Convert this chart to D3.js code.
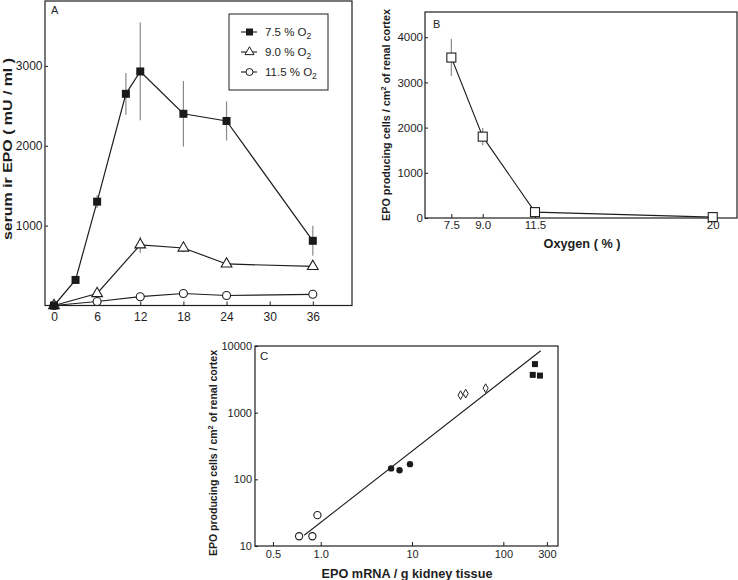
<!DOCTYPE html>
<html><head><meta charset="utf-8">
<script src="https://cdn.jsdelivr.net/npm/d3@7"></script>
<style>
body{margin:0;background:#fff}
svg{display:block}
text{font-family:"Liberation Sans",Arial,sans-serif;fill:#1e1e1e}
</style>
</head><body><svg id="c" width="738" height="580"></svg>
<script>
// ---------- Panel A data ----------
const hours75 = [0, 3, 6, 10, 12, 18, 24, 36];
const epo75   = [0, 320, 1300, 2650, 2930, 2400, 2310, 810];
const err75   = [0, 0, 80, 262, 612, 410, 245, 188];
const hours90 = [0, 6, 12, 18, 24, 36];
const epo90   = [0, 150, 760, 720, 520, 490];
const err90   = [0, 0, 100, 50, 0, 0];
const hours115 = [0, 6, 12, 18, 24, 36];
const epo115   = [0, 50, 110, 150, 125, 140];
const xTicksA = [0, 6, 12, 18, 24, 30, 36];
const yTicksA = [1000, 2000, 3000];
const legendLabels = ["7.5 % O", "9.0 % O", "11.5 % O"];

// ---------- Panel B data ----------
const oxygenB = [7.5, 9.0, 11.5, 20];
const cellsB  = [3550, 1800, 130, 20];
const errB    = [410, 190, 0, 0];
const xTicksB = [7.5, 9.0, 11.5, 20];
const xTickLabelsB = ["7.5", "9.0", "11.5", "20"];
const yTicksB = [0, 1000, 2000, 3000, 4000];

// ---------- Panel C data ----------
const mrnaOpen = [0.58, 0.81, 0.92];
const cellsOpen = [14, 14, 29];
const mrnaFilled = [5.9, 7.3, 9.5];
const cellsFilled = [146, 137, 169];
const mrnaDiamond = [34, 38.7, 64];
const cellsDiamond = [1830, 1930, 2330];
const mrnaSquare = [222, 210, 252];
const cellsSquare = [5350, 3690, 3600];
const fitX = [0.66, 257];
const fitY = [14.5, 8480];
const xTicksC = [0.3, 1, 10, 100, 300];
const xTickLabelsC = ["0.5", "1.0", "10", "100", "300"];
const yTicksC = [10, 100, 1000, 10000];
const yTickLabelsC = ["10", "100", "1000", "10000"];

const svg = d3.select("#c");
const INK = "#1e1e1e", GREY = "#8a8a8a";
const fmtInt = d3.format("d");

function styleAxis(g, fs) {
  g.select(".domain").remove();
  g.selectAll(".tick line").attr("stroke", INK).attr("stroke-width", 1);
  g.selectAll(".tick text").attr("font-size", fs).attr("fill", INK)
    .style("font-family", '"Liberation Sans",Arial,sans-serif');
}
function frame(x0, y0, x1, y1) {
  svg.append("rect").attr("x", x0).attr("y", y0).attr("width", x1 - x0).attr("height", y1 - y0)
    .attr("fill", "none").attr("stroke", INK).attr("stroke-width", 1.2);
}
function sym(type, size) { return d3.symbol().type(type).size(size)(); }

// ================= PANEL A =================
const xA = d3.scaleLinear().domain([-1.25, 41.45]).range([45, 352]);
const yA = d3.scaleLinear().domain([0, 3812]).range([305.5, 1]);

svg.append("g").attr("transform", "translate(0,305.5)")
  .call(d3.axisBottom(xA).tickValues(xTicksA).tickFormat(fmtInt).tickSize(-4).tickPadding(7))
  .call(g => styleAxis(g, 12));
svg.append("g").attr("transform", "translate(45,0)")
  .call(d3.axisLeft(yA).tickValues(yTicksA).tickFormat(fmtInt).tickSize(-3).tickPadding(2.5))
  .call(g => styleAxis(g, 12));
frame(45, 1, 352, 305.5);

svg.append("text").attr("x", 51).attr("y", 14).attr("font-size", 11).text("A");
svg.append("text").attr("transform", "translate(12,149) rotate(-90)")
  .attr("text-anchor", "middle").attr("font-size", 13).attr("font-weight", "bold")
  .attr("textLength", 182).attr("lengthAdjust", "spacingAndGlyphs")
  .text("serum ir EPO ( mU / ml )");

const lineA = d3.line().x(d => xA(d[0])).y(d => yA(d[1]));
function errBars(xs, ys, es, xs_, ys_) {
  xs.forEach((h, i) => {
    if (es[i] > 0) svg.append("line")
      .attr("x1", xs_(h)).attr("x2", xs_(h))
      .attr("y1", ys_(ys[i] - es[i])).attr("y2", ys_(ys[i] + es[i]))
      .attr("stroke", GREY).attr("stroke-width", 1.2);
  });
}
errBars(hours75, epo75, err75, xA, yA);
errBars(hours90, epo90, err90, xA, yA);

const d75 = hours75.map((h, i) => [h, epo75[i]]);
const d90 = hours90.map((h, i) => [h, epo90[i]]);
const d115 = hours115.map((h, i) => [h, epo115[i]]);
[d115, d90, d75].forEach(d => svg.append("path").attr("d", lineA(d))
  .attr("fill", "none").attr("stroke", INK).attr("stroke-width", 1.2));

svg.selectAll(".c115").data(d115).enter().append("circle")
  .attr("cx", d => xA(d[0])).attr("cy", d => yA(d[1])).attr("r", 4)
  .attr("fill", "#fff").attr("stroke", INK).attr("stroke-width", 1.1);
svg.selectAll(".t90").data(d90).enter().append("path")
  .attr("d", sym(d3.symbolTriangle, 50))
  .attr("transform", d => `translate(${xA(d[0])},${yA(d[1])})`)
  .attr("fill", "#fff").attr("stroke", INK).attr("stroke-width", 1.1);
svg.selectAll(".s75").data(d75).enter().append("rect")
  .attr("x", d => xA(d[0]) - 4).attr("y", d => yA(d[1]) - 4)
  .attr("width", 8).attr("height", 8).attr("fill", "#1a1a1a");

// legend
svg.append("rect").attr("x", 229).attr("y", 14).attr("width", 99).attr("height", 76)
  .attr("fill", "#fff").attr("stroke", INK).attr("stroke-width", 1);
legendLabels.forEach((lab, i) => {
  const cy = 32 + i * 20;
  svg.append("line").attr("x1", 241).attr("x2", 257).attr("y1", cy).attr("y2", cy)
    .attr("stroke", INK).attr("stroke-width", 1.1);
  if (i === 0) svg.append("rect").attr("x", 246).attr("y", cy - 3.5).attr("width", 7).attr("height", 7).attr("fill", "#1a1a1a");
  if (i === 1) svg.append("path").attr("d", sym(d3.symbolTriangle, 36))
    .attr("transform", `translate(249.5,${cy})`).attr("fill", "#fff").attr("stroke", INK);
  if (i === 2) svg.append("circle").attr("cx", 249.5).attr("cy", cy).attr("r", 3.5)
    .attr("fill", "#fff").attr("stroke", INK);
  const t = svg.append("text").attr("x", 265).attr("y", cy + 4).attr("font-size", 11.5).text(lab);
  t.append("tspan").attr("dy", 3).attr("font-size", 8.5).text("2");
});

// ================= PANEL B =================
const xB = d3.scaleLinear().domain([6.24, 21.16]).range([425, 737]);
const yB = d3.scaleLinear().domain([0, 4558]).range([218, 12]);

svg.append("g").attr("transform", "translate(0,218)")
  .call(d3.axisBottom(xB).tickValues(xTicksB).tickFormat((d, i) => xTickLabelsB[i]).tickSize(-4).tickPadding(3))
  .call(g => styleAxis(g, 11.5));
svg.append("g").attr("transform", "translate(425,0)")
  .call(d3.axisLeft(yB).tickValues(yTicksB).tickFormat(fmtInt).tickSize(-3).tickPadding(2))
  .call(g => styleAxis(g, 11.5));
frame(425, 12, 737, 218);

svg.append("text").attr("x", 433).attr("y", 28).attr("font-size", 11).text("B");
const yTitleB = svg.append("text").attr("transform", "translate(390,115) rotate(-90)")
  .attr("text-anchor", "middle").attr("font-size", 11).attr("font-weight", "bold")
  .attr("textLength", 212).attr("lengthAdjust", "spacingAndGlyphs");
yTitleB.append("tspan").text("EPO producing cells / cm");
yTitleB.append("tspan").attr("dy", -4.5).attr("font-size", 7.5).text("2");
yTitleB.append("tspan").attr("dy", 4.5).text(" of renal cortex");
svg.append("text").attr("x", 582).attr("y", 248).attr("text-anchor", "middle")
  .attr("font-size", 13).attr("font-weight", "bold")
  .attr("textLength", 77).attr("lengthAdjust", "spacingAndGlyphs").text("Oxygen ( % )");

errBars(oxygenB, cellsB, errB, xB, yB);
const dB = oxygenB.map((o, i) => [o, cellsB[i]]);
svg.append("path").attr("d", d3.line().x(d => xB(d[0])).y(d => yB(d[1]))(dB))
  .attr("fill", "none").attr("stroke", INK).attr("stroke-width", 1.1);
svg.selectAll(".sB").data(dB).enter().append("rect")
  .attr("x", d => xB(d[0]) - 4.5).attr("y", d => yB(d[1]) - 4.5)
  .attr("width", 9).attr("height", 9).attr("fill", "#fff").attr("stroke", INK).attr("stroke-width", 1.1);

// ================= PANEL C =================
const xC = d3.scaleLog().domain([0.1907, 397]).range([255, 558]);
const yC = d3.scaleLog().domain([10, 10000]).range([546, 346]);

svg.append("g").attr("transform", "translate(0,546)")
  .call(d3.axisBottom(xC).tickValues(xTicksC).tickFormat((d, i) => xTickLabelsC[i]).tickSize(-4).tickPadding(4))
  .call(g => styleAxis(g, 11));
svg.append("g").attr("transform", "translate(255,0)")
  .call(d3.axisLeft(yC).tickValues(yTicksC).tickFormat((d, i) => yTickLabelsC[i]).tickSize(-3).tickPadding(3))
  .call(g => styleAxis(g, 11));
frame(255, 346, 558, 546);

svg.append("text").attr("x", 260).attr("y", 360).attr("font-size", 11.5).text("C");
const yTitleC = svg.append("text").attr("transform", "translate(217,453) rotate(-90)")
  .attr("text-anchor", "middle").attr("font-size", 10.6).attr("font-weight", "bold")
  .attr("textLength", 206).attr("lengthAdjust", "spacingAndGlyphs");
yTitleC.append("tspan").text("EPO producing cells / cm");
yTitleC.append("tspan").attr("dy", -4.5).attr("font-size", 7.5).text("2");
yTitleC.append("tspan").attr("dy", 4.5).text(" of renal cortex");
svg.append("text").attr("x", 407).attr("y", 578).attr("text-anchor", "middle")
  .attr("font-size", 13).attr("font-weight", "bold")
  .attr("textLength", 171).attr("lengthAdjust", "spacingAndGlyphs").text("EPO mRNA / g kidney tissue");

svg.append("line").attr("x1", xC(fitX[0])).attr("y1", yC(fitY[0]))
  .attr("x2", xC(fitX[1])).attr("y2", yC(fitY[1]))
  .attr("stroke", INK).attr("stroke-width", 1.1);

mrnaOpen.forEach((m, i) => svg.append("circle").attr("cx", xC(m)).attr("cy", yC(cellsOpen[i]))
  .attr("r", 3.6).attr("fill", "#fff").attr("stroke", INK).attr("stroke-width", 1.1));
mrnaFilled.forEach((m, i) => svg.append("circle").attr("cx", xC(m)).attr("cy", yC(cellsFilled[i]))
  .attr("r", 3.2).attr("fill", "#1a1a1a"));
mrnaDiamond.forEach((m, i) => svg.append("path").attr("d", sym(d3.symbolDiamond, 22))
  .attr("transform", `translate(${xC(m)},${yC(cellsDiamond[i])})`)
  .attr("fill", "#fff").attr("stroke", INK).attr("stroke-width", 1));
mrnaSquare.forEach((m, i) => svg.append("rect").attr("x", xC(m) - 3).attr("y", yC(cellsSquare[i]) - 3)
  .attr("width", 6).attr("height", 6).attr("fill", "#1a1a1a"));
</script>
</body></html>
